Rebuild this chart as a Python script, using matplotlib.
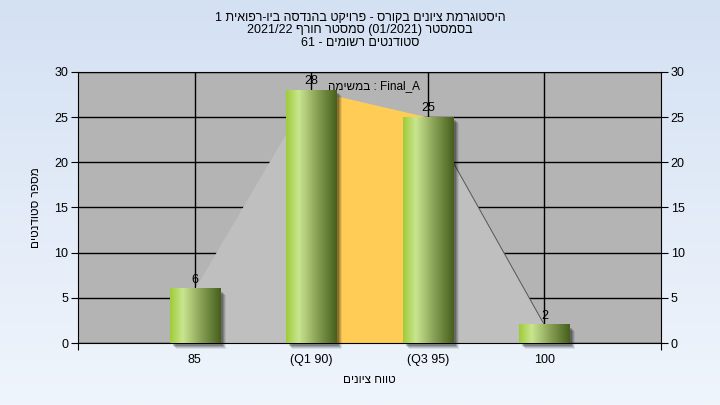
import re
import numpy as np
import matplotlib
matplotlib.use("Agg")
import matplotlib.pyplot as plt
import matplotlib.transforms as mtransforms
from matplotlib.colors import LinearSegmentedColormap
from matplotlib.patches import Rectangle

plt.rcParams['font.family'] = ['Liberation Sans', 'DejaVu Sans']

# data
categories = ['85', '(Q1 90)', '(Q3 95)', '100']
counts = [6, 28, 25, 2]
q_from, q_to = 1, 2          # index range of the Q1..Q3 band (yellow)

title_lines = ['היסטוגרמת ציונים בקורס - פרויקט בהנדסה ביו-רפואית 1',
               'בסמסטר (01/2021) סמסטר חורף 2021/22',
               'סטודנטים רשומים - 61']
x_title = 'טווח ציונים'
y_title = 'מספר סטודנטים'
band_word = 'במשימה'
band_name = 'Final_A'


def rtl(s):
    # matplotlib has no bidi, so lay the string out in visual order
    parts = re.findall(r'[A-Za-z0-9_/.]+|.', s)
    mirror = {'(': ')', ')': '('}
    return ''.join(mirror.get(p, p) for p in reversed(parts))


fig = plt.figure(figsize=(7.2, 4.05), dpi=100)

# light blue background gradient
bg = fig.add_axes([0, 0, 1, 1], zorder=-10)
bg_cmap = LinearSegmentedColormap.from_list('bg', ['#f0f5fc', '#d4e1f3'])
bg.imshow(np.linspace(0, 1, 256).reshape(-1, 1), cmap=bg_cmap, aspect='auto',
          extent=[0, 1, 0, 1], origin='lower')
bg.axis('off')

ax = fig.add_axes([78/720, 1-343/405, (661-78)/720, (343-72)/405])
ax.set_facecolor('#b4b4b4')
pos = np.arange(1, len(counts)+1)

# area behind the bars
ax.fill_between(pos, counts, color='#bfbfbf', zorder=2, linewidth=0)
ax.fill_between(pos[q_from:q_to+1], counts[q_from:q_to+1], color='#ffcc55', zorder=2.2, linewidth=0)
ax.plot(pos[q_to:], counts[q_to:], color='#555555', linewidth=0.7, zorder=2.3)

# gradient bars with a soft shadow
green = LinearSegmentedColormap.from_list('g', [(0, '#9fcc3a'), (0.25, '#c9e590'),
                                               (0.6, '#8ba357'), (1, '#465f1c')])
grad = np.linspace(0, 1, 128).reshape(1, -1)
w = 0.43
for i, (x, v) in enumerate(zip(pos, counts)):
    for k, a in [(6, 0.08), (5, 0.12), (4, 0.16), (3, 0.2)]:
        tr = mtransforms.offset_copy(ax.transData, fig=fig, x=k, y=-k, units='dots')
        ax.add_patch(Rectangle((x - w/2, 0), w, v, color='black', alpha=a,
                               transform=tr, zorder=3, linewidth=0, clip_on=False))
    ax.imshow(grad, cmap=green, aspect='auto', extent=[x - w/2, x + w/2, 0, v], zorder=4)
    ax.annotate(str(v), (x, v), xytext=(0, 2), textcoords='offset points',
                ha='center', va='bottom', fontsize=9, zorder=6)

ax.text(pos[q_from] + 0.14, counts[q_from] + 0.4, rtl(band_word) + ' : ' + band_name,
        fontsize=8.5, ha='left', va='center', zorder=6)

ax.set_xlim(0, 5)
ax.set_ylim(0, 30)
ax.set_yticks(range(0, 31, 5))
ax.set_xticks([0, 5])
ax.set_xticklabels(['', ''])
ax.set_xticks(pos, categories, minor=True)
ax.tick_params(axis='x', which='minor', length=0, pad=8, labelsize=9)
ax.tick_params(axis='x', which='major', length=5, direction='out')
ax.tick_params(axis='y', length=5, pad=2, labelsize=9, right=True, labelright=True)

ax.set_axisbelow(True)
ax.grid(axis='y', color='black', linewidth=1)
ax.grid(axis='x', which='minor', color='black', linewidth=1)
for s in ax.spines.values():
    s.set_color('black')

ax.set_xlabel(rtl(x_title), fontsize=8.5, labelpad=6)
ax.set_ylabel(rtl(y_title), fontsize=8.5, labelpad=9)

for j, line in enumerate(title_lines):
    fig.text(0.5, 1 - (18 + 12.5*j)/405, rtl(line), ha='center', va='center', fontsize=9)

fig.savefig('out.png', dpi=100)
